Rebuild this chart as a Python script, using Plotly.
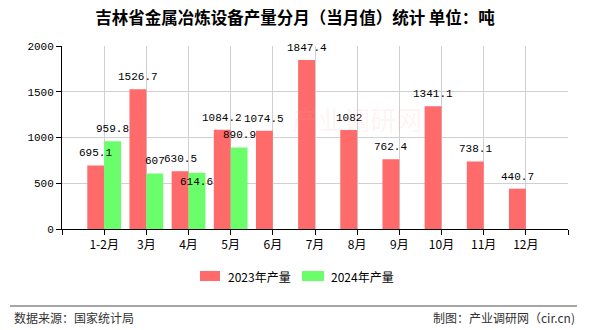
import plotly.graph_objects as go

months = ["1-2月", "3月", "4月", "5月", "6月", "7月", "8月", "9月", "10月", "11月", "12月"]
prod_2023 = [695.1, 1526.7, 630.5, 1084.2, 1074.5, 1847.4, 1082, 762.4, 1341.1, 738.1, 440.7]
prod_2024 = [959.8, 607, 614.6, 890.9, None, None, None, None, None, None, None]
y_ticks = [0, 500, 1000, 1500, 2000]
series_names = ["2023年产量", "2024年产量"]
series_colors = ["#ff6a6a", "#6aff6a"]
title_text = "吉林省金属冶炼设备产量分月（当月值）统计 单位：吨"
source_text = "数据来源：国家统计局"
credit_text = "制图：产业调研网（cir.cn)"

idx = list(range(len(months)))
cjk = "Noto Sans CJK SC"
mono = "Liberation Mono, monospace"

# plot area geometry (pixels)
L, R, T, B = 62, 568, 46, 229
PW, PH = R - L, B - T

def px(x):
    return (x - L) / PW

def py(y):
    return (B - y) / PH

fig = go.Figure()
for name, vals, col in zip(series_names, [prod_2023, prod_2024], series_colors):
    fig.add_trace(go.Bar(x=idx, y=vals, name=name, marker_color=col, marker_line_width=0,
                         showlegend=False))

annotations = []
# value labels drawn on top of all bars
offsets = [-0.2, 0.2]
for s, vals in enumerate([prod_2023, prod_2024]):
    for i, v in enumerate(vals):
        if v is None:
            continue
        shift = 12
        # label collision avoidance like the reference: 4月 2024 label pushed down
        if s == 1 and i == 2:
            shift = -9
        annotations.append(dict(
            x=i + offsets[s], y=v, xref="x", yref="y", text="%g" % v, showarrow=False,
            xanchor="center", yanchor="middle", yshift=shift,
            font=dict(family=mono, size=11, color="#000")))

# manual legend
leg_y = 276
legend_items = [(200, 220, 226), (302, 324, 329)]
shapes = []
for (x0, x1, tx), name, col in zip(legend_items, series_names, series_colors):
    shapes.append(dict(type="rect", xref="paper", yref="paper",
                       x0=px(x0), x1=px(x1), y0=py(leg_y + 5), y1=py(leg_y - 5),
                       fillcolor=col, line=dict(width=0)))
    annotations.append(dict(text=name, xref="paper", yref="paper", x=px(tx), y=py(leg_y),
                            xanchor="left", yanchor="middle", showarrow=False,
                            font=dict(family=cjk, size=12, color="#000")))

# separator line
shapes.append(dict(type="line", xref="paper", yref="paper",
                   x0=px(10), x1=px(577), y0=py(306), y1=py(306),
                   line=dict(color="#888", width=1.5)))

annotations += [
    dict(text=source_text, xref="paper", yref="paper", x=px(12), y=py(317),
         xanchor="left", yanchor="middle", showarrow=False,
         font=dict(family=cjk, size=12, color="#333")),
    dict(text=credit_text, xref="paper", yref="paper", x=px(577), y=py(317),
         xanchor="right", yanchor="middle", showarrow=False,
         font=dict(family=cjk, size=12, color="#333")),
    dict(text="产业调研网", xref="paper", yref="paper", x=px(357), y=py(118),
         xanchor="center", yanchor="middle", showarrow=False,
         font=dict(family=cjk, size=26, color="rgba(255,170,170,0.15)")),
]

tickvals = [-1] + idx + [len(months)]
ticktext = [""] + months + [""]

fig.update_layout(
    width=590, height=330,
    margin=dict(l=L, r=590 - R, t=T, b=330 - B),
    paper_bgcolor="white", plot_bgcolor="white",
    barmode="group", bargap=0.2, bargroupgap=0,
    font=dict(family=cjk, size=12, color="#000"),
    title=dict(text="<b>" + title_text + "</b>", x=0.5, xanchor="center", y=1 - 18 / 330,
               yanchor="middle", font=dict(family=cjk, size=16.5, color="#000")),
    showlegend=False,
    xaxis=dict(
        range=[-1, len(months)], tickmode="array", tickvals=tickvals, ticktext=ticktext,
        showgrid=True, gridcolor="#d0d0d0", gridwidth=1,
        showline=True, linecolor="#000", linewidth=1,
        ticks="outside", ticklen=5, tickcolor="#000",
        tickfont=dict(family=cjk, size=12, color="#000"), zeroline=False,
    ),
    yaxis=dict(
        range=[0, 2000], tickmode="array", tickvals=y_ticks,
        showgrid=True, gridcolor="#d0d0d0", gridwidth=1,
        showline=True, linecolor="#000", linewidth=1,
        ticks="outside", ticklen=5, tickcolor="#000",
        tickfont=dict(family=mono, size=11, color="#000"), zeroline=False,
    ),
    shapes=shapes,
    annotations=annotations,
)

fig.write_html("out.html")
